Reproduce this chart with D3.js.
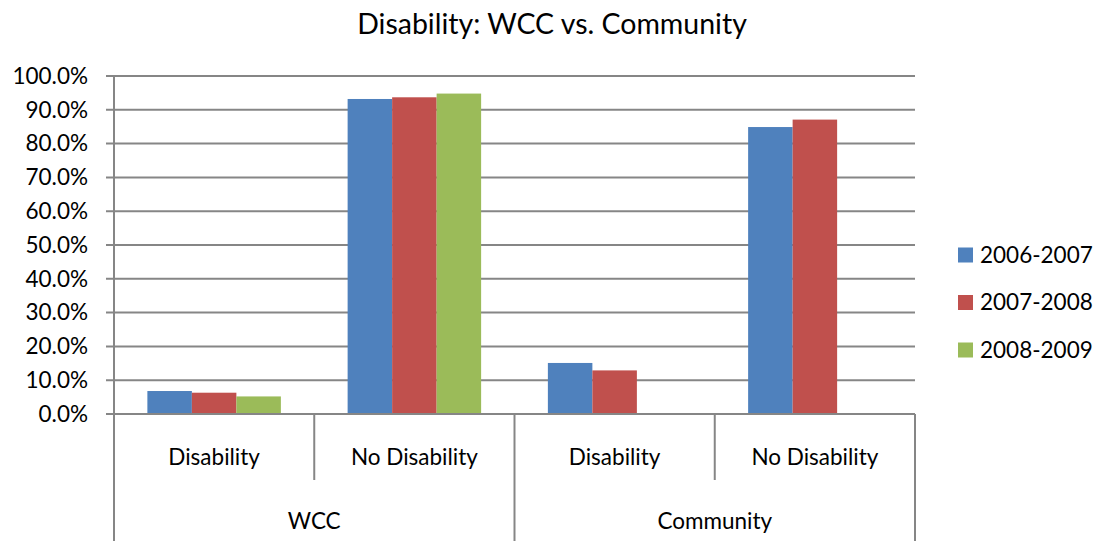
<!DOCTYPE html>
<html>
<head>
<meta charset="utf-8">
<script src="https://cdn.jsdelivr.net/npm/d3@7"></script>
<style>
  body { margin: 0; background: #fff; }
  svg { font-family: Lato, "Open Sans", sans-serif; }
  .grid line { stroke: #868686; stroke-width: 2; }
  .axis-line { stroke: #868686; stroke-width: 2; }
</style>
</head>
<body>
<svg id="chart" width="1096" height="541"></svg>
<script>
// data
let groups = ["WCC", "Community"]
let categories = ["Disability", "No Disability"]
let seriesNames = ["2006-2007", "2007-2008", "2008-2009"]
let seriesColors = ["#4F81BD", "#C0504D", "#9BBB59"]
// values per series, in order WCC/Disability, WCC/No Disability, Community/Disability, Community/No Disability
let s2006 = [6.8, 93.2, 15.1, 84.9]
let s2007 = [6.3, 93.7, 12.9, 87.1]
let s2008 = [5.2, 94.8, null, null]
let yTicks = [0, 10, 20, 30, 40, 50, 60, 70, 80, 90, 100]

let seriesValues = [s2006, s2007, s2008]

let svg = d3.select("#chart")
let margin = {top: 76, left: 114, right: 181, bottom: 127}
let width = 1096 - margin.left - margin.right
let height = 541 - margin.top - margin.bottom

// one slot per (group, category)
let slots = []
groups.forEach(g => categories.forEach(c => slots.push(g + "|" + c)))

let x0 = d3.scaleBand().domain(slots).range([0, width]).paddingInner(0)
let barW = x0.bandwidth() / (seriesNames.length + 1.5)
let x1 = d3.scaleBand().domain(seriesNames)
  .range([barW * 0.75, x0.bandwidth() - barW * 0.75])
let y = d3.scaleLinear().domain([0, 100]).range([height, 0])

let g = svg.append("g")
  .attr("transform", "translate(" + margin.left + "," + margin.top + ")")

// gridlines + left ticks
let grid = g.append("g").attr("class", "grid")
grid.selectAll("line").data(yTicks).enter().append("line")
  .attr("x1", -8).attr("x2", width)
  .attr("y1", d => y(d)).attr("y2", d => y(d))

grid.selectAll("text").data(yTicks).enter().append("text")
  .attr("x", -26).attr("y", d => y(d))
  .attr("dy", "0.35em").attr("text-anchor", "end")
  .attr("font-size", 22.5).attr("fill", "#000")
  .text(d => d3.format(".1f")(d) + "%")

// bars
let barData = []
seriesValues.forEach((vals, si) => {
  vals.forEach((v, i) => {
    if (v != null) barData.push({slot: slots[i], series: seriesNames[si], color: seriesColors[si], value: v})
  })
})
g.selectAll(".bar").data(barData).enter().append("rect")
  .attr("class", "bar")
  .attr("x", d => x0(d.slot) + x1(d.series))
  .attr("width", x1.bandwidth())
  .attr("y", d => y(d.value))
  .attr("height", d => y(0) - y(d.value))
  .attr("fill", d => d.color)

// y axis line
g.append("line").attr("class", "axis-line")
  .attr("x1", 0).attr("x2", 0).attr("y1", 0).attr("y2", height)
g.append("line").attr("class", "axis-line")
  .attr("x1", -8).attr("x2", width).attr("y1", height).attr("y2", height)

// category axis separators
let bottom = 541 - margin.top
slots.forEach((s, i) => {
  let xx = x0(s)
  let isGroupEdge = i % categories.length == 0
  g.append("line").attr("class", "axis-line")
    .attr("x1", xx).attr("x2", xx).attr("y1", height)
    .attr("y2", isGroupEdge ? bottom : height + 66)
})
g.append("line").attr("class", "axis-line")
  .attr("x1", width).attr("x2", width).attr("y1", height).attr("y2", bottom)

// category labels
g.selectAll(".cat").data(slots).enter().append("text")
  .attr("class", "cat")
  .attr("x", d => x0(d) + x0.bandwidth() / 2)
  .attr("y", height + 43)
  .attr("dy", "0.35em").attr("text-anchor", "middle")
  .attr("font-size", 22.5).attr("fill", "#000")
  .text(d => d.split("|")[1])

// group labels
let groupW = width / groups.length
g.selectAll(".grp").data(groups).enter().append("text")
  .attr("class", "grp")
  .attr("x", (d, i) => groupW * i + groupW / 2)
  .attr("y", height + 107)
  .attr("dy", "0.35em").attr("text-anchor", "middle")
  .attr("font-size", 22.5).attr("fill", "#000")
  .text(d => d)

// title
svg.append("text")
  .attr("x", 552).attr("y", 24)
  .attr("dy", "0.35em").attr("text-anchor", "middle")
  .attr("font-size", 28.5).attr("fill", "#000")
  .text("Disability: WCC vs. Community")

// legend
let legend = svg.append("g").attr("transform", "translate(958,255)")
let items = legend.selectAll("g").data(seriesNames).enter().append("g")
  .attr("transform", (d, i) => "translate(0," + i * 47.5 + ")")
items.append("rect")
  .attr("x", 0).attr("y", -7.5).attr("width", 15).attr("height", 15)
  .attr("fill", (d, i) => seriesColors[i])
items.append("text")
  .attr("x", 22).attr("y", 0).attr("dy", "0.35em")
  .attr("font-size", 22.5).attr("fill", "#000")
  .text(d => d)
</script>
</body>
</html>
